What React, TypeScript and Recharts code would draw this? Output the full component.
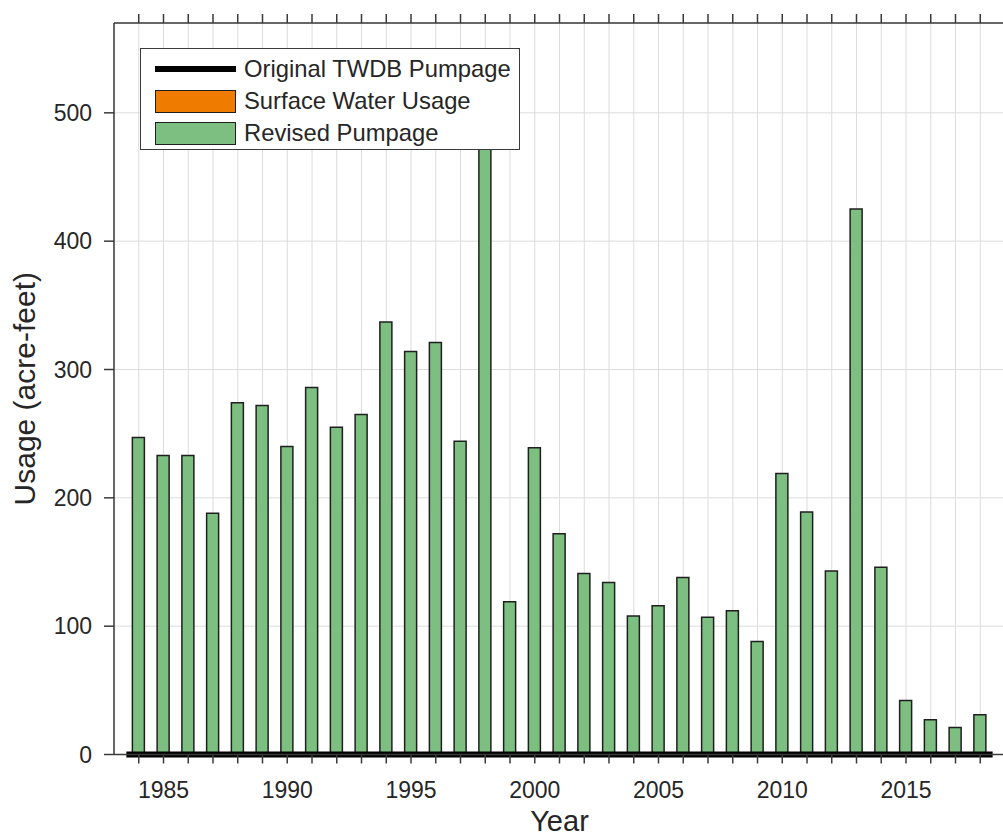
import { ComposedChart, Bar, XAxis, YAxis, CartesianGrid, ReferenceLine, Legend } from "recharts";

const years = [
  1984, 1985, 1986, 1987, 1988, 1989, 1990, 1991, 1992, 1993, 1994, 1995,
  1996, 1997, 1998, 1999, 2000, 2001, 2002, 2003, 2004, 2005, 2006, 2007,
  2008, 2009, 2010, 2011, 2012, 2013, 2014, 2015, 2016, 2017, 2018,
];

// acre-feet
const revisedPumpage = [
  247, 233, 233, 188, 274, 272, 240, 286, 255, 265, 337, 314,
  321, 244, 520, 119, 239, 172, 141, 134, 108, 116, 138, 107,
  112, 88, 219, 189, 143, 425, 146, 42, 27, 21, 31,
];

const surfaceWater = [
  0, 0, 0, 0, 0, 0, 0, 0, 0, 0, 0, 0,
  0, 0, 0, 0, 0, 0, 0, 0, 0, 0, 0, 0,
  0, 0, 0, 0, 0, 0, 0, 0, 0, 0, 0,
];

const originalTwdb = [
  0, 0, 0, 0, 0, 0, 0, 0, 0, 0, 0, 0,
  0, 0, 0, 0, 0, 0, 0, 0, 0, 0, 0, 0,
  0, 0, 0, 0, 0, 0, 0, 0, 0, 0, 0,
];

const yTicks = [0, 100, 200, 300, 400, 500];
const xTickLabels = [1985, 1990, 1995, 2000, 2005, 2010, 2015];

const data = years.map((year, i) => ({
  year,
  revised: revisedPumpage[i],
  surface: surfaceWater[i],
  twdb: originalTwdb[i],
}));

const FONT = '"Liberation Sans", Arial, Helvetica, sans-serif';
const INK = "#262626";
const AXIS = "#3a3a3a";
const GREEN = "#7dbf80";
const ORANGE = "#ef7b00";

const legendItems = [
  { name: "Original TWDB Pumpage", kind: "line", color: "#000" },
  { name: "Surface Water Usage", kind: "rect", color: ORANGE },
  { name: "Revised Pumpage", kind: "rect", color: GREEN },
];

function LegendBox() {
  return (
    <div
      style={{
        width: 380,
        height: 102,
        boxSizing: "border-box",
        border: `1.5px solid ${AXIS}`,
        background: "#fff",
        paddingTop: 4,
        fontFamily: FONT,
        fontSize: 23.8,
        color: INK,
      }}
    >
      {legendItems.map(it => (
        <div key={it.name} style={{ display: "flex", alignItems: "center", height: 32 }}>
          <div style={{ width: 14 }} />
          {it.kind === "line" ? (
            <div style={{ width: 81, height: 6, background: it.color }} />
          ) : (
            <div
              style={{
                width: 81,
                height: 23,
                boxSizing: "border-box",
                background: it.color,
                border: "1.5px solid #1f1f1f",
              }}
            />
          )}
          <div style={{ marginLeft: 8, whiteSpace: "nowrap", lineHeight: "32px" }}>{it.name}</div>
        </div>
      ))}
    </div>
  );
}

function YLabel(props: any) {
  const vb = props.viewBox || { x: 0, y: 0, width: 0, height: 0 };
  const x = vb.x + 35;
  const y = vb.y + vb.height / 2;
  return (
    <text
      x={x}
      y={y}
      transform={`rotate(-90, ${x}, ${y})`}
      textAnchor="middle"
      fontFamily={FONT}
      fontSize={30}
      fill={INK}
    >
      Usage (acre-feet)
    </text>
  );
}

function XLabel(props: any) {
  const vb = props.viewBox || { x: 0, y: 0, width: 0, height: 0 };
  return (
    <text
      x={vb.x + vb.width / 2}
      y={vb.y + 76}
      textAnchor="middle"
      fontFamily={FONT}
      fontSize={29}
      fill={INK}
    >
      Year
    </text>
  );
}

export default function App() {
  return (
    <div
      style={{
        position: "absolute",
        left: 0,
        top: 0,
        width: 1003,
        height: 835,
        overflow: "hidden",
        background: "#fff",
      }}
    >
      <ComposedChart
        width={1010}
        height={835}
        data={data}
        margin={{ top: 13, right: 5, bottom: 0, left: 0 }}
      >
        <CartesianGrid stroke="#dcdcdc" strokeWidth={1} />
        <XAxis
          dataKey="year"
          type="number"
          domain={[1983, 2019]}
          allowDataOverflow
          ticks={years}
          interval={0}
          height={80.5}
          tickSize={9}
          tickMargin={18.5}
          tickFormatter={(v: number) => (xTickLabels.includes(v) ? String(v) : "")}
          tick={{ fontFamily: FONT, fontSize: 23, fill: INK }}
          axisLine={{ stroke: AXIS, strokeWidth: 1.5 }}
          tickLine={{ stroke: AXIS, strokeWidth: 1.5 }}
          label={<XLabel />}
        />
        <XAxis
          xAxisId="top"
          orientation="top"
          dataKey="year"
          type="number"
          domain={[1983, 2019]}
          allowDataOverflow
          ticks={years}
          interval={0}
          height={10}
          tickSize={9}
          tickFormatter={() => ""}
          axisLine={{ stroke: AXIS, strokeWidth: 1.5 }}
          tickLine={{ stroke: AXIS, strokeWidth: 1.5 }}
        />
        <YAxis
          type="number"
          domain={[0, 570]}
          allowDataOverflow
          ticks={yTicks}
          width={114}
          tickSize={10}
          tickMargin={12}
          tick={{ fontFamily: FONT, fontSize: 23, fill: INK }}
          axisLine={{ stroke: AXIS, strokeWidth: 1.5 }}
          tickLine={{ stroke: AXIS, strokeWidth: 1.5 }}
          label={<YLabel />}
        />
        <Legend
          layout="vertical"
          align="center"
          verticalAlign="middle"
          content={<LegendBox />}
          wrapperStyle={{ position: "absolute", left: 140, top: 48, width: 380, height: 102 }}
        />
        <Bar
          dataKey="surface"
          stackId="use"
          barSize={12}
          fill={ORANGE}
          stroke="#1f1f1f"
          strokeWidth={1.5}
          isAnimationActive={false}
        />
        <Bar
          dataKey="revised"
          stackId="use"
          barSize={12}
          fill={GREEN}
          stroke="#1f1f1f"
          strokeWidth={1.5}
          isAnimationActive={false}
        />
        <ReferenceLine
          segment={[
            { x: years[0] - 0.5, y: originalTwdb[0] },
            { x: years[years.length - 1] + 0.5, y: originalTwdb[originalTwdb.length - 1] },
          ]}
          stroke="#000"
          strokeWidth={6}
          ifOverflow="visible"
        />
      </ComposedChart>
    </div>
  );
}
